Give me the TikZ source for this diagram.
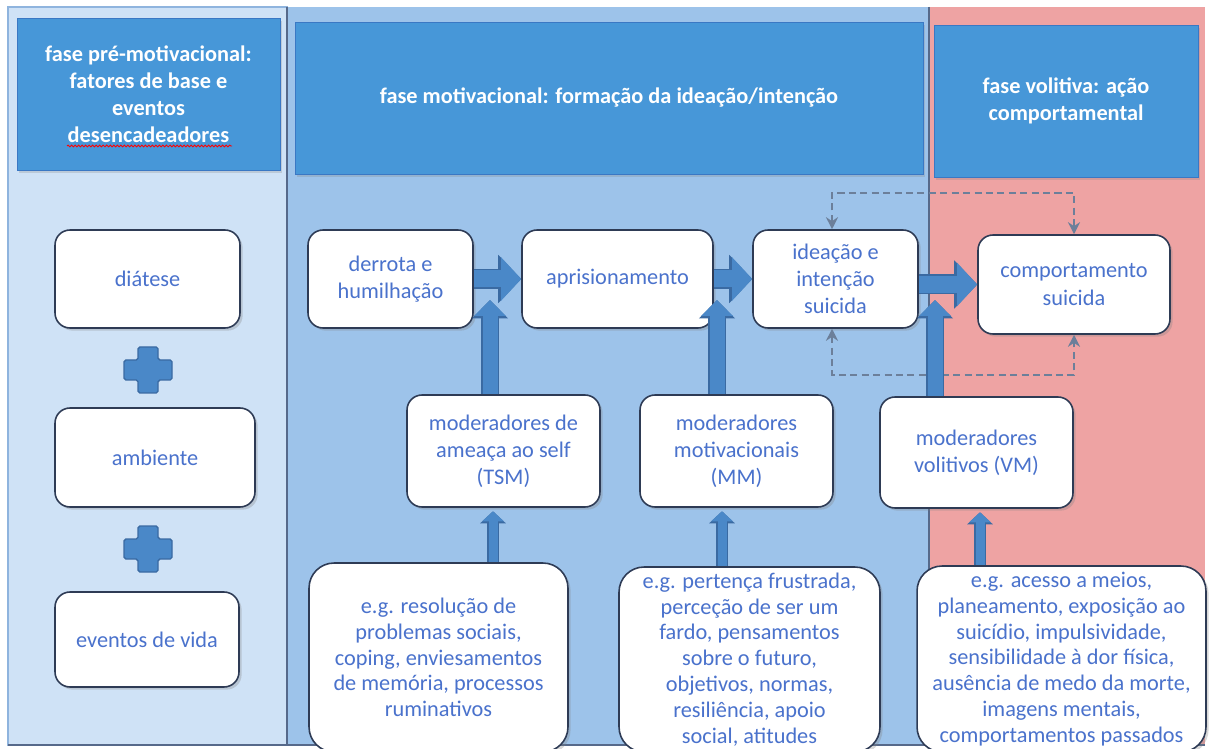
\documentclass[tikz,border=0pt]{standalone}
\usepackage{fontspec}
\setmainfont{Carlito}
\usepackage{tikz}
\usetikzlibrary{arrows.meta}
\usetikzlibrary{shadows}
\usetikzlibrary{decorations.pathmorphing}

\definecolor{paleblue}{HTML}{CFE2F6}
\definecolor{paleedge}{HTML}{8FB4DE}
\definecolor{midblue}{HTML}{9DC3EA}
\definecolor{rosebg}{HTML}{EEA3A3}
\definecolor{headblue}{HTML}{4797D8}
\definecolor{headedge}{HTML}{3A78C4}
\definecolor{txtblue}{HTML}{4A72CC}
\definecolor{boxedge}{HTML}{2E3B55}
\definecolor{arrowfill}{HTML}{4A88C8}
\definecolor{arrowedge}{HTML}{3A6AA2}
\definecolor{dashgray}{HTML}{6C7F9A}
\definecolor{divider}{HTML}{56698A}

\newcommand{\boxfont}{\fontsize{12.7pt}{15.4pt}\selectfont}
\newcommand{\tightfont}{\fontsize{12.7pt}{14.7pt}\selectfont}

\tikzset{
  phasehead/.style={draw=headedge, fill=headblue, text=white, align=center,
    font=\bfseries\boxfont, inner sep=0pt,
    drop shadow={opacity=.25, shadow xshift=1pt, shadow yshift=-1.5pt}},
  stagebox/.style={draw=boxedge, line width=0.9pt, fill=white, rounded corners=0.3cm,
    text=txtblue, align=center, font=\boxfont, inner sep=1pt,
    drop shadow={opacity=.3, shadow xshift=1.5pt, shadow yshift=-1.5pt}},
  samplebox/.style={stagebox, rounded corners=0.5cm, font=\tightfont},
  fatarrow/.style={draw=arrowfill, line width=0.34cm,
    -{Triangle[length=0.4cm,width=0.84cm]},
    preaction={draw=arrowedge, line width=0.4cm, -{Triangle[length=0.46cm,width=0.94cm]}}},
  riser/.style={draw=arrowfill, line width=0.3cm,
    -{Triangle[length=0.32cm,width=0.62cm]},
    preaction={draw=arrowedge, line width=0.36cm, -{Triangle[length=0.37cm,width=0.7cm]}}},
  thinriser/.style={draw=arrowfill, line width=0.18cm, shorten >=2pt,
    -{Triangle[length=0.2cm,width=0.42cm]},
    preaction={draw=arrowedge, line width=0.23cm, -{Triangle[length=0.24cm,width=0.5cm]}}},
  feedback/.style={draw=dashgray, line width=1.1pt, dash pattern=on 4pt off 2.5pt,
    {Stealth[length=0.24cm,width=0.24cm]}-{Stealth[length=0.24cm,width=0.24cm]}},
  plusmark/.style={fill=arrowfill, draw=arrowedge, line width=0.8pt, rounded corners=1pt}
}

\begin{document}
\begin{tikzpicture}[x=0.02cm, y=-0.02cm]
  \useasboundingbox (0,0) rectangle (1209,749);
  \clip (0,0) rectangle (1209,749);

  % three phase panels
  \draw[fill=paleblue, draw=paleedge, line width=1pt] (8,7) rectangle (287,745);
  \fill[midblue] (287,7) rectangle (929,745);
  \fill[rosebg] (929,7) rectangle (1205,745);
  \draw[divider, line width=1.5pt] (287,7) -- (287,745);
  \draw[divider, line width=1.5pt] (929,7) -- (929,745);
  \draw[divider, line width=1pt] (8,745) -- (1205,745);

  % headers
  \node[phasehead, minimum width=5.26cm, minimum height=3.04cm] (hdrpre) at (148.5,94)
    {fase pré-motivacional:\\ fatores de base e\\ eventos\\ desencadeadores};
  \node[phasehead, minimum width=12.56cm, minimum height=3.04cm] (hdrmot) at (609,98)
    {fase motivacional: formação da ideação/intenção};
  \node[phasehead, minimum width=5.28cm, minimum height=3.04cm] (hdrvol) at (1066,101)
    {fase volitiva: ação\\ comportamental};
  \draw[red, line width=0.5pt, decorate, decoration={snake, amplitude=0.5pt, segment length=2pt}]
    (67,146) -- (232,146);

  % pre-motivational column
  \node[stagebox, minimum width=3.7cm, minimum height=1.96cm] (diatese) at (147.5,279) {diátese};
  \node[stagebox, minimum width=4cm, minimum height=1.98cm] (ambiente) at (155,457.5) {ambiente};
  \node[stagebox, minimum width=3.68cm, minimum height=1.9cm] (eventos) at (147,639.5) {eventos de vida};
  \foreach \cy in {370,549}
    \draw[plusmark, shift={(148,\cy)}] (-10,-23) -- (10,-23) -- (10,-10) -- (24,-10) -- (24,10)
      -- (10,10) -- (10,23) -- (-10,23) -- (-10,10) -- (-24,10) -- (-24,-10) -- (-10,-10) -- cycle;

  % main pathway
  \node[stagebox, minimum width=3.3cm, minimum height=1.96cm] (derrota) at (390.5,279) {derrota e\\ humilhação};
  \node[stagebox, minimum width=3.82cm, minimum height=1.96cm] (aprision) at (617.5,279) {aprisionamento};
  \node[stagebox, minimum width=3.3cm, minimum height=1.96cm] (ideacao) at (835.5,279) {ideação e\\ intenção\\ suicida};
  \node[stagebox, minimum width=3.84cm, minimum height=1.98cm] (comport) at (1074,284.5) {comportamento\\ suicida};

  % moderators
  \node[stagebox, minimum width=3.86cm, minimum height=2.24cm] (tsm) at (503.5,451) {moderadores de\\ ameaça ao self\\ (TSM)};
  \node[stagebox, minimum width=3.86cm, minimum height=2.24cm] (mm) at (736.5,451) {moderadores\\ motivacionais\\ (MM)};
  \node[stagebox, minimum width=3.86cm, minimum height=2.22cm] (vm) at (976.5,452.5) {moderadores\\ volitivos (VM)};

  % examples
  \node[samplebox, minimum width=5.18cm, minimum height=3.78cm] (exself) at (438.5,657.5)
    {e.g. resolução de\\ problemas sociais,\\ coping, enviesamentos\\ de memória, processos\\ ruminativos};
  \node[samplebox, minimum width=5.22cm, minimum height=3.7cm] (exmot) at (749.5,659.5)
    {e.g. pertença frustrada,\\ perceção de ser um\\ fardo, pensamentos\\ sobre o futuro,\\ objetivos, normas,\\ resiliência, apoio\\ social, atitudes};
  \node[samplebox, minimum width=5.78cm, minimum height=3.72cm] (exvol) at (1061.5,659)
    {e.g. acesso a meios,\\ planeamento, exposição ao\\ suicídio, impulsividade,\\ sensibilidade à dor física,\\ ausência de medo da morte,\\ imagens mentais,\\ comportamentos passados};

  % feedback loops
  \coordinate (looptop) at (832,193);
  \coordinate (loopbot) at (832,375);
  \draw[feedback] (ideacao.north -| looptop) -- (looptop) -| (comport.north);
  \draw[feedback] (ideacao.south -| loopbot) -- (loopbot) -| (comport.south);

  % moderator arrows
  \coordinate (j1) at (490,300);
  \coordinate (j2) at (717,300);
  \coordinate (j3) at (935,300);
  \draw[riser] (tsm.north -| j1) -- (j1);
  \draw[riser] (mm.north -| j2) -- (j2);
  \draw[riser] (vm.north -| j3) -- (j3);

  \coordinate (k1) at (493,0);
  \coordinate (k2) at (722,0);
  \coordinate (k3) at (980,0);
  \draw[thinriser] (exself.north -| k1) -- (tsm.south -| k1);
  \draw[thinriser] (exmot.north -| k2) -- (mm.south -| k2);
  \draw[thinriser] (exvol.north -| k3) -- (vm.south -| k3);

  % pathway arrows
  \draw[fatarrow] (derrota) -- (aprision);
  \draw[fatarrow] (aprision) -- (ideacao);
  \draw[fatarrow] (ideacao.east |- comport) -- (comport.west);
\end{tikzpicture}
\end{document}
